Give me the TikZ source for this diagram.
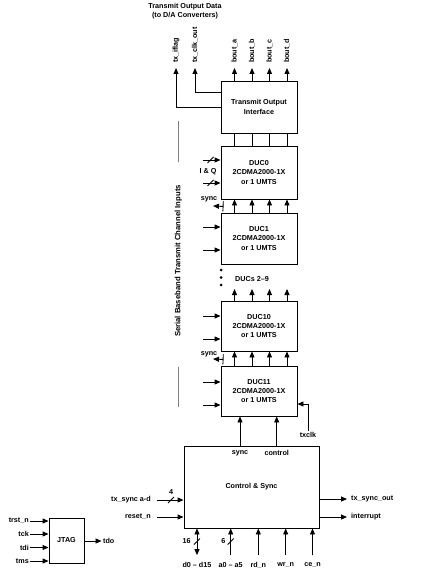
\documentclass[tikz,border=0pt]{standalone}
\usepackage{fontspec}
\setmainfont{Liberation Sans}
\usetikzlibrary{arrows.meta}
\newcommand\dfont{\fontsize{7.2}{9.3}\selectfont\bfseries}
\newcommand\slashmark[2]{\draw[ln] ([shift={(-3,3)}]#1,#2) -- ++(6,-6);}
\begin{document}
\begin{tikzpicture}[x=1pt,y=-1pt,
  every node/.style={font=\dfont, inner sep=0pt},
  box/.style={draw, line width=0.9pt, align=center},
  ln/.style={line width=0.9pt},
  arr/.style={ln, -{Triangle[length=6pt,width=5pt]}},
  darr/.style={ln, {Triangle[length=6pt,width=5pt]}-{Triangle[length=6pt,width=5pt]}},
  barr/.style={ln, {Bar[width=10pt]}-{Triangle[length=6pt,width=5pt]}},
  grayline/.style={line width=0.9pt, draw=gray},
  vlab/.style={rotate=90, anchor=west, outer sep=5pt},
]
\useasboundingbox (0,0) rectangle (426,580);

% title
\node[align=center] (title) at (185,11) {Transmit Output Data\\(to D/A Converters)};

% boxes
\node[box, minimum width=76pt, minimum height=52pt] (toi) at (259,107) {Transmit Output\\Interface};
\node[box, minimum width=76pt, minimum height=53pt] (duc0) at (259,172.5) {DUC0\\2CDMA2000-1X\\or 1 UMTS};
\node[box, minimum width=76pt, minimum height=51pt] (duc1) at (259,238.5) {DUC1\\2CDMA2000-1X\\or 1 UMTS};
\node[box, minimum width=76pt, minimum height=50pt] (duc10) at (259,326) {DUC10\\2CDMA2000-1X\\or 1 UMTS};
\node[box, minimum width=76pt, minimum height=50pt] (duc11) at (259,391) {DUC11\\2CDMA2000-1X\\or 1 UMTS};
\node[box, minimum width=135pt, minimum height=82pt] (ctrl) at (251.5,487) {Control \& Sync};
\node[box, minimum width=35pt, minimum height=45pt] (jtag) at (66.5,540.5) {JTAG};

% output labels
\node[vlab] (tf) at (176,68) {tx\_iflag};
\node[vlab] (tc) at (195,68) {tx\_clk\_out};
\node[vlab] (ba) at (234.5,68) {bout\_a};
\node[vlab] (bb) at (252,68) {bout\_b};
\node[vlab] (bc) at (269.5,68) {bout\_c};
\node[vlab] (bd) at (287,68) {bout\_d};
\draw[arr] (toi.west) -| (tf.west);
\draw[arr] ([yshift=15pt]toi.west) -| (tc.west);
\coordinate (dtop) at (259,289);
\foreach \b in {ba,bb,bc,bd}{
  \draw[arr] (toi.north -| \b) -- (\b.west);
  \draw[ln] (toi.south -| \b) -- (duc0.north -| \b);
  \draw[arr] (duc1.north -| \b) -- (duc0.south -| \b);
  \draw[arr] (duc10.north -| \b) -- (dtop -| \b);
  \draw[arr] (duc11.north -| \b) -- (duc10.south -| \b);
}

% sync arrows between DUCs
\node (sy0) at (209,199) {sync};
\coordinate (s0) at (213,206);
\draw[barr] ([xshift=3pt,yshift=-7pt]duc0.south west) -- (s0);
\node (sy1) at (209,354.5) {sync};
\coordinate (s1) at (213,359);
\draw[barr] ([xshift=3pt,yshift=-8pt]duc10.south west) -- (s1);

% dots
\fill (221,270) circle (1.5pt);
\fill (221,277.5) circle (1.5pt);
\fill (221,285) circle (1.5pt);
\node[anchor=west] (ducs) at (235,279) {DUCs 2--9};

% left inputs to DUCs
\foreach \y/\d in {160/duc0,183/duc0,227/duc1,250/duc1,316/duc10,339/duc10,382/duc11,405/duc11}{
  \coordinate (in) at (203,\y);
  \draw[arr] (in) -- (in -| \d.west);
}
\slashmark{210.5}{160}
\slashmark{210.5}{183}
\node (iq) at (208,172) {I \& Q};

% serial baseband label
\node[rotate=90, font=\fontsize{7.7}{9}\selectfont\bfseries] (serial) at (178.5,261) {Serial Baseband Transmit Channel Inputs};
\draw[grayline] (178.5,121) -- (178.5,162);
\draw[grayline] (178.5,367) -- (178.5,407);

% txclk
\node (txclk) at (308,435) {txclk};
\draw[arr] ([yshift=1pt]txclk.north) |- ([yshift=-13pt]duc11.east);

% control to DUC11
\node (csync) at (240,453) {sync};
\node (cctrl) at (276.7,453) {control};
\draw[arr] (ctrl.north -| csync) -- (duc11.south -| csync);
\draw[arr] (ctrl.north -| cctrl) -- (duc11.south -| cctrl);

% control left inputs
\node[anchor=east] (txs) at (151,500) {tx\_sync a-d};
\draw[arr] ([xshift=6pt]txs.east) -- (txs -| ctrl.west);
\slashmark{171}{500}
\node (four) at (171,492.5) {4};
\node[anchor=east] (rst) at (151,517) {reset\_n};
\draw[arr] ([xshift=6pt]rst.east) -- (rst -| ctrl.west);

% control right outputs
\node[anchor=west] (tso) at (351,499) {tx\_sync\_out};
\draw[arr] (ctrl.east |- tso) -- ([xshift=-4pt]tso.west);
\node[anchor=west] (intr) at (351,517) {interrupt};
\draw[arr] (ctrl.east |- intr) -- ([xshift=-4pt]intr.west);

% control bottom inputs
\node (dd) at (197,565) {d0 -- d15};
\node (aa) at (230.7,565) {a0 -- a5};
\node (rd) at (258.3,565) {rd\_n};
\node (wr) at (285.7,565) {wr\_n};
\node (ce) at (312.5,565) {ce\_n};
\draw[darr] ([yshift=7pt]dd.north) -- (ctrl.south -| dd);
\foreach \n in {aa,rd,wr,ce}{
  \draw[arr] ([yshift=7pt]\n.north) -- (ctrl.south -| \n);
}
\slashmark{197}{541.5}
\slashmark{230.7}{541.5}
\node (sixteen) at (186.7,541.5) {16};
\node (six) at (223.3,541.5) {6};

% JTAG
\node[anchor=east] (trst) at (29,521) {trst\_n};
\node[anchor=east] (tck) at (29,534) {tck};
\node[anchor=east] (tdi) at (29,547.5) {tdi};
\node[anchor=east] (tms) at (29,561) {tms};
\foreach \n in {trst,tck,tdi,tms}{
  \draw[arr] ([xshift=1pt]\n.east) -- (\n -| jtag.west);
}
\node[anchor=west] (tdo) at (103,541) {tdo};
\draw[arr] (jtag.east |- tdo) -- ([xshift=-1.5pt]tdo.west);
\end{tikzpicture}
\end{document}
